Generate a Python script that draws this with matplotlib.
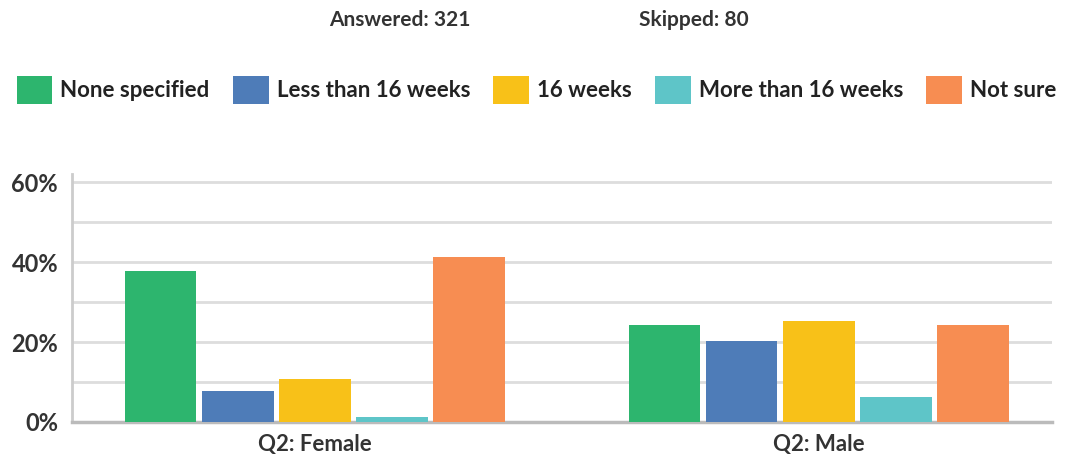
import matplotlib
matplotlib.use("Agg")
import matplotlib.pyplot as plt
import numpy as np

plt.rcParams['font.family'] = ['Lato', 'DejaVu Sans']

groups = ["Q2: Female", "Q2: Male"]
answers = ["None specified", "Less than 16 weeks", "16 weeks", "More than 16 weeks", "Not sure"]
female = [37.9, 7.8, 10.8, 1.3, 41.4]
male = [24.4, 20.4, 25.4, 6.3, 24.4]
colors = ["#2DB56E", "#4E7CB8", "#F8C118", "#5EC5C8", "#F78D52"]
yticks = [0, 20, 40, 60]
ytick_labels = ["0%", "20%", "40%", "60%"]

fig = plt.figure(figsize=(10.73, 4.68), dpi=100)
ax = fig.add_axes([0.0671, 0.0983, 0.9129, 0.529])

x = np.arange(len(groups))
step = 0.153
width = 0.142
bars = []
for i, name in enumerate(answers):
    vals = [female[i], male[i]]
    b = ax.bar(x + (i - 2) * step, vals, width, color=colors[i], label=name, zorder=3)
    bars.append(b)

ax.set_xlim(-0.482, 1.462)
ax.set_ylim(0, 62)
ax.set_yticks(yticks)
ax.set_yticklabels(ytick_labels)
ax.set_yticks([10, 30, 50], minor=True)
ax.set_xticks(x)
ax.set_xticklabels(groups)
ax.grid(axis='y', which='both', color='#DDDDDD', linewidth=2, zorder=0)
ax.tick_params(axis='both', which='both', length=0)
ax.tick_params(axis='y', pad=10, labelsize=17, labelcolor='#333333')
ax.tick_params(axis='x', pad=9, labelsize=16, labelcolor='#333333')
for lab in ax.get_xticklabels() + ax.get_yticklabels():
    lab.set_fontweight('bold')
for s in ['top', 'right']:
    ax.spines[s].set_visible(False)
ax.spines['left'].set_color('#CCCCCC')
ax.spines['left'].set_linewidth(2)
ax.spines['bottom'].set_color('#BBBBBB')
ax.spines['bottom'].set_linewidth(2.5)

fig.text(0.373, 0.957, "Answered: 321", ha='center', va='center', fontsize=15, fontweight='bold', color='#333333')
fig.text(0.647, 0.957, "Skipped: 80", ha='center', va='center', fontsize=15, fontweight='bold', color='#333333')

leg = fig.legend(handles=bars, labels=answers, loc='center', bbox_to_anchor=(0.5, 0.808), ncol=5,
                 frameon=False, prop={'size': 16, 'weight': 'bold'}, handlelength=1.6, handleheight=1.6,
                 handletextpad=0.36, columnspacing=1.05, borderaxespad=0)
for t in leg.get_texts():
    t.set_color('#222222')

fig.savefig("out.png", dpi=100)
